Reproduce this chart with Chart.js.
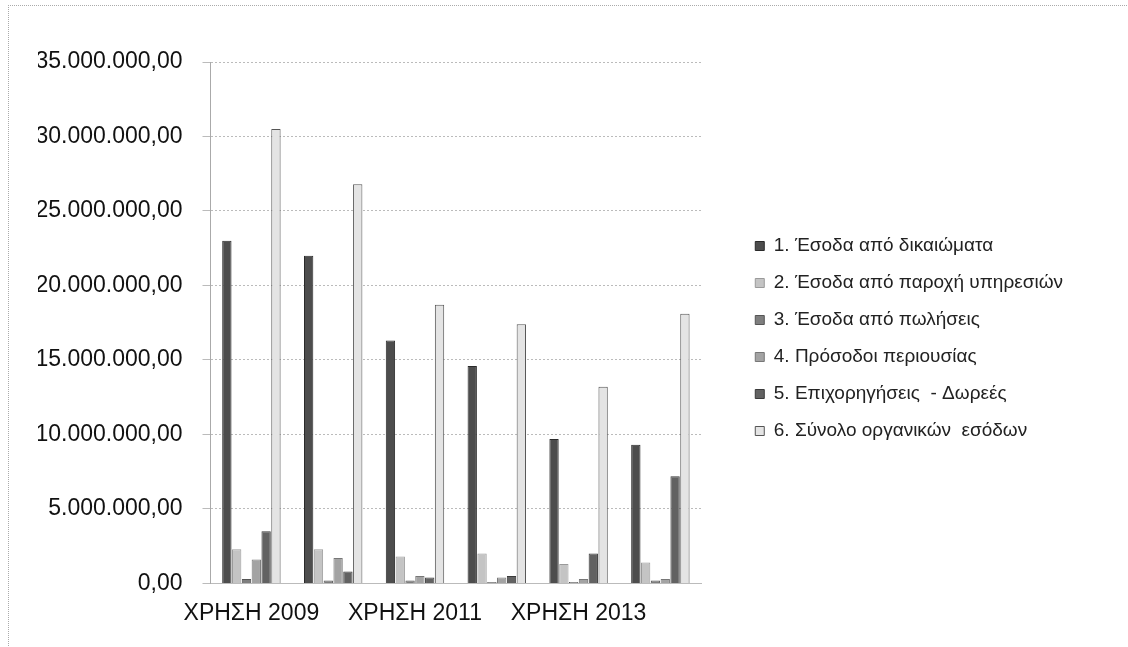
<!doctype html>
<html lang="el">
<head>
<meta charset="utf-8">
<title>Έσοδα</title>
<script src="https://cdn.jsdelivr.net/npm/chart.js@4/dist/chart.umd.min.js"></script>
<style>
  body { margin: 0; background: #fff; }
  #wrap { position: relative; width: 1128px; height: 647px; }
  #frame { position: absolute; left: 8px; top: 5px; width: 1130px; height: 660px;
           border-left: 1px dotted #aaa; border-top: 1px dotted #aaa; }
  canvas { position: absolute; left: 0; top: 0; }
</style>
</head>
<body>
<div id="wrap">
  <div id="frame"></div>
  <canvas id="chart" width="1128" height="647"></canvas>
</div>
<script>
// έτη (κατηγορίες)
var years = ['ΧΡΗΣΗ 2009', 'ΧΡΗΣΗ 2010', 'ΧΡΗΣΗ 2011', 'ΧΡΗΣΗ 2012', 'ΧΡΗΣΗ 2013', 'ΧΡΗΣΗ 2014'];

// τιμές ανά σειρά (ευρώ), διαβασμένες από το γράφημα
var dikaiomata   = [23000000, 22000000, 16300000, 14600000, 9700000, 9300000];
var ypiresies    = [2300000, 2300000, 1800000, 2000000, 1300000, 1400000];
var poliseis     = [300000, 200000, 200000, 100000, 100000, 200000];
var periousia    = [1600000, 1700000, 500000, 400000, 300000, 300000];
var dorees       = [3500000, 800000, 400000, 500000, 2000000, 7200000];
var synolo       = [30500000, 26800000, 18700000, 17400000, 13200000, 18100000];

var seriesNames = [
  '1. Έσοδα από δικαιώματα',
  '2. Έσοδα από παροχή υπηρεσιών',
  '3. Έσοδα από πωλήσεις',
  '4. Πρόσοδοι περιουσίας',
  '5. Επιχορηγήσεις  - Δωρεές',
  '6. Σύνολο οργανικών  εσόδων'
];
var yTicks = [0, 5000000, 10000000, 15000000, 20000000, 25000000, 30000000, 35000000];

var fills = ['#4d4d4d', '#c4c4c4', '#7e7e7e', '#a3a3a3', '#626262', '#e4e4e4'];
var edges = ['#2a2a2a', '#9a9a9a', '#555555', '#777777', '#3a3a3a', '#555555'];

// 35.000.000,00
function fmt(v) {
  var s = Math.round(v).toString().replace(/\B(?=(\d{3})+(?!\d))/g, '.');
  return s + ',00';
}

var values = [dikaiomata, ypiresies, poliseis, periousia, dorees, synolo];
var datasets = values.map(function (arr, i) {
  return {
    label: seriesNames[i],
    data: arr,
    backgroundColor: fills[i],
    borderColor: edges[i],
    borderWidth: 1
  };
});

new Chart(document.getElementById('chart'), {
  type: 'bar',
  data: { labels: years, datasets: datasets },
  options: {
    responsive: false,
    animation: false,
    layout: { padding: { top: 42, left: 38, right: 55, bottom: 12 } },
    datasets: { bar: { categoryPercentage: 0.72, barPercentage: 0.95 } },
    plugins: {
      tooltip: { enabled: false },
      legend: {
        position: 'right',
        align: 'center',
        maxWidth: 420,
        labels: {
          boxWidth: 9,
          boxHeight: 9,
          padding: 18,
          color: '#222',
          font: { family: 'Liberation Sans', size: 19 }
        }
      }
    },
    scales: {
      x: {
        grid: { display: false },
        border: { color: '#bbb' },
        ticks: {
          color: '#111',
          maxRotation: 0,
          autoSkip: false,
          padding: 8,
          font: { family: 'Liberation Sans', size: 23 },
          callback: function (v, i) { return i % 2 === 0 ? years[i] : ''; }
        }
      },
      // κενός πάνω άξονας: κατεβάζει την περιοχή του γραφήματος, όχι το υπόμνημα
      x2: {
        position: 'top',
        display: true,
        grid: { display: false },
        border: { display: false },
        ticks: { display: false },
        afterFit: function (axis) { axis.height = 20; }
      },
      y: {
        min: 0,
        max: 35000000,
        afterBuildTicks: function (axis) {
          axis.ticks = yTicks.map(function (v) { return { value: v }; });
        },
        grid: { color: '#bbbbbb', tickLength: 8 },
        border: { color: '#aaa', dash: [2, 2] },
        ticks: {
          color: '#111',
          padding: 20,
          font: { family: 'Liberation Sans', size: 23 },
          callback: function (v) { return fmt(v); }
        }
      },
      // κενός δεξιός άξονας: απόσταση ανάμεσα στο γράφημα και στο υπόμνημα
      y2: {
        position: 'right',
        display: true,
        grid: { display: false },
        border: { display: false },
        ticks: { display: false },
        afterFit: function (axis) { axis.width = 36; }
      }
    }
  }
});
</script>
</body>
</html>
